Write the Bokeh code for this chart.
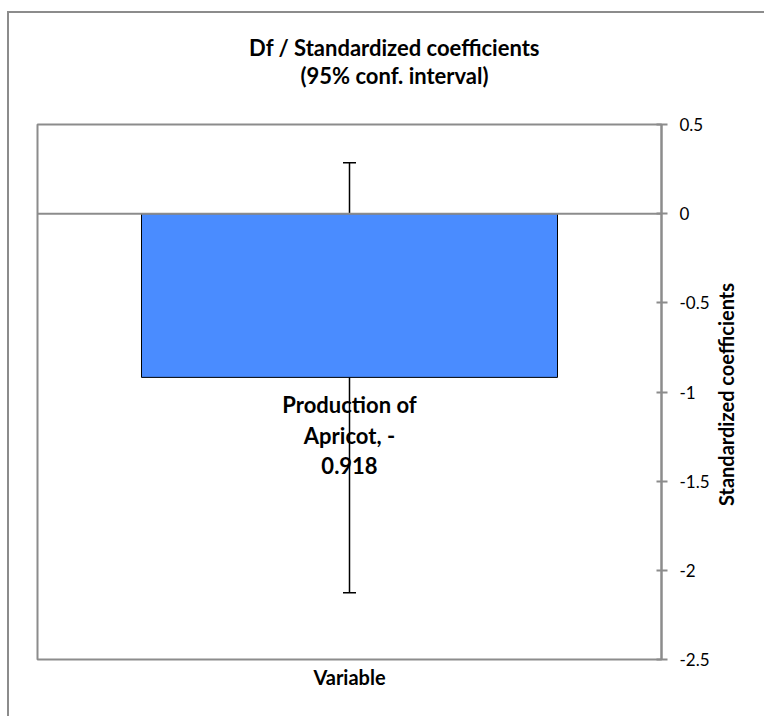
import math
from bokeh.plotting import figure
from bokeh.models import (Range1d, FixedTicker, Whisker, ColumnDataSource, Span, Title,
                          TeeHead, Label)
from bokeh.core.properties import value
from bokeh.embed import file_html
from bokeh.resources import INLINE

# ---- data ----
categories = ["Production of Apricot"]
coefficients = [-0.918]
ci_lower = [-2.125]
ci_upper = [0.286]
bar_labels = ["Production of\nApricot, -\n0.918"]
y_ticks = [0.5, 0, -0.5, -1, -1.5, -2, -2.5]
y_tick_labels = ["0.5", "0", "-0.5", "-1", "-1.5", "-2", "-2.5"]
title_line1 = "Df / Standardized coefficients"
title_line2 = "(95% conf. interval)"
x_title = "Variable"
y_title = "Standardized coefficients"

source = ColumnDataSource(dict(cat=categories, coef=coefficients, lo=ci_lower,
                               hi=ci_upper, label=bar_labels))

FONT = "Lato"
GRAY = "#8c8c8c"
BAR = "#4A8CFF"
W, H = 757, 705

p = figure(width=W, height=H, x_range=categories, y_range=Range1d(-2.5, 0.5),
           output_backend="svg", toolbar_location=None, y_axis_location="right",
           min_border_left=28, min_border_right=105, min_border_top=111,
           min_border_bottom=59, title=None,
           background_fill_color="white", border_fill_color="white")

# outer chart border (left and top edges are the visible ones)
p.styles = {"margin-left": "7px", "margin-top": "11px",
            "border-left": "2px solid #8c8c8c", "border-top": "2px solid #8c8c8c"}

# two-line chart title, centred on the chart area (canvas coordinates, y from top)
for txt, ty in ((title_line1, 32), (title_line2, 60)):
    p.add_layout(Label(x=383, y=ty, x_units="canvas", y_units="canvas", text=txt,
                       text_align="center", text_baseline="middle",
                       text_font=FONT, text_font_size="22px", text_font_style="bold",
                       text_color="black"), "above")

p.xgrid.visible = False
p.ygrid.visible = False
p.outline_line_color = GRAY
p.outline_line_width = 2

# bar
p.vbar(x="cat", top="coef", bottom=0, width=2/3, source=source,
       fill_color=BAR, line_color="black", line_width=1)

# data label
p.text(x="cat", y="coef", text="label", source=source, text_align="center",
       text_baseline="top", y_offset=14, text_font=value(FONT),
       text_font_size="22px", text_font_style="bold", text_color="black",
       text_line_height=1.12)

# zero line
p.add_layout(Span(location=0, dimension="width", line_color=GRAY, line_width=2))

# error bars
p.add_layout(Whisker(base="cat", upper="hi", lower="lo", source=source,
                     line_color="black", line_width=1.5,
                     upper_head=TeeHead(size=13, line_color="black", line_width=1.5),
                     lower_head=TeeHead(size=13, line_color="black", line_width=1.5)))

# y axis (right)
yax = p.yaxis[0]
yax.ticker = FixedTicker(ticks=y_ticks)
yax.major_label_overrides = {float(t): l for t, l in zip(y_ticks, y_tick_labels)}
yax.axis_line_color = GRAY
yax.axis_line_width = 2
yax.major_tick_line_color = GRAY
yax.major_tick_line_width = 2
yax.major_tick_in = 5
yax.major_tick_out = 6
yax.minor_tick_line_color = None
yax.major_label_standoff = 12
yax.major_label_text_font = FONT
yax.major_label_text_font_size = "17px"
yax.major_label_text_color = "black"

# y axis title, reading bottom-to-top, centred on the plot area
p.add_layout(Label(x=714, y=379, x_units="canvas", y_units="canvas",
                   text=y_title, angle=math.pi / 2, text_align="center",
                   text_baseline="middle", text_font=FONT, text_font_size="20px",
                   text_font_style="bold", text_color="black"), "right")

# x axis: only its title is shown in the reference
p.xaxis.visible = False
p.add_layout(Title(text=x_title, text_font=FONT, text_font_size="20px",
                   text_font_style="bold", text_color="black", align="center",
                   standoff=6), "below")

open("out.html", "w").write(file_html(p, INLINE))
